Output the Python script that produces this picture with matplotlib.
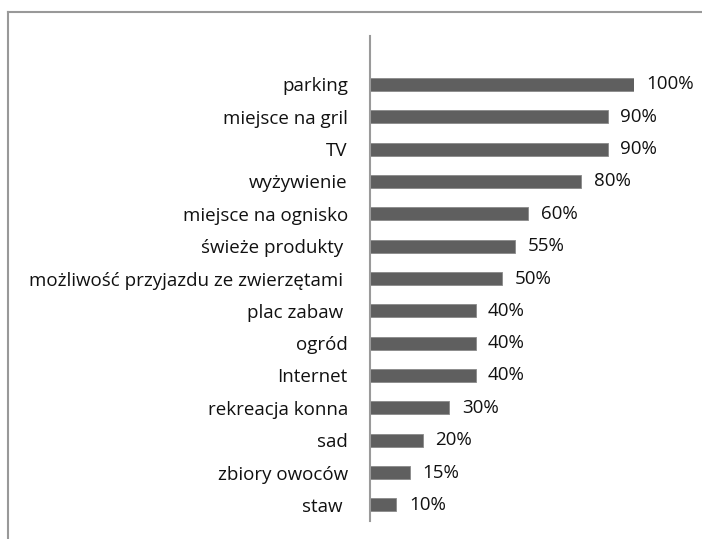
import matplotlib
matplotlib.use("Agg")
import matplotlib.pyplot as plt
from matplotlib.lines import Line2D

plt.rcParams["font.family"] = ["Open Sans", "DejaVu Sans"]

# dane z wykresu (od dołu do góry)
kategorie = ["staw ", "zbiory owoców", "sad", "rekreacja konna", "Internet",
             "ogród", "plac zabaw ", "możliwość przyjazdu ze zwierzętami ",
             "świeże produkty ", "miejsce na ognisko", "wyżywienie", "TV",
             "miejsce na gril", "parking"]
wartosci = [10, 15, 20, 30, 40, 40, 40, 50, 55, 60, 80, 90, 90, 100]
etykiety = ["10%", "15%", "20%", "30%", "40%", "40%", "40%", "50%", "55%",
            "60%", "80%", "90%", "90%", "100%"]

fig = plt.figure(figsize=(7.02, 5.39), dpi=100)
ax = fig.add_axes([370 / 702, 1 - 521 / 539, (634 - 370) / 702, (521 - 36) / 539])

y = list(range(len(kategorie)))
ax.barh(y, wartosci, height=0.4, color="#5f5f5f", edgecolor="#8a8a8a", linewidth=0.6)
for yi, v, t in zip(y, wartosci, etykiety):
    ax.annotate(t, (v, yi), xytext=(9, 0), textcoords="offset points",
                ha="left", va="center", fontsize=13.5, color="#111111",
                annotation_clip=False)

ax.set_xlim(0, 100)
ax.set_ylim(-0.5, len(kategorie) + 0.5)
ax.set_yticks(y)
ax.set_yticklabels(kategorie, fontsize=13.5, color="#111111")
ax.tick_params(axis="y", length=0, pad=16)
ax.set_xticks([])
for s in ["top", "right", "bottom"]:
    ax.spines[s].set_visible(False)
ax.spines["left"].set_color("#9a9a9a")
ax.spines["left"].set_linewidth(1.5)

# ramka obszaru wykresu (widoczna tylko góra i lewa strona)
fig.add_artist(Line2D([7.5 / 702, 1], [1 - 12 / 539, 1 - 12 / 539],
                      transform=fig.transFigure, color="#999999", lw=1.5))
fig.add_artist(Line2D([7.5 / 702, 7.5 / 702], [0, 1 - 12 / 539],
                      transform=fig.transFigure, color="#999999", lw=1.5))

fig.savefig("out.png", dpi=100)
